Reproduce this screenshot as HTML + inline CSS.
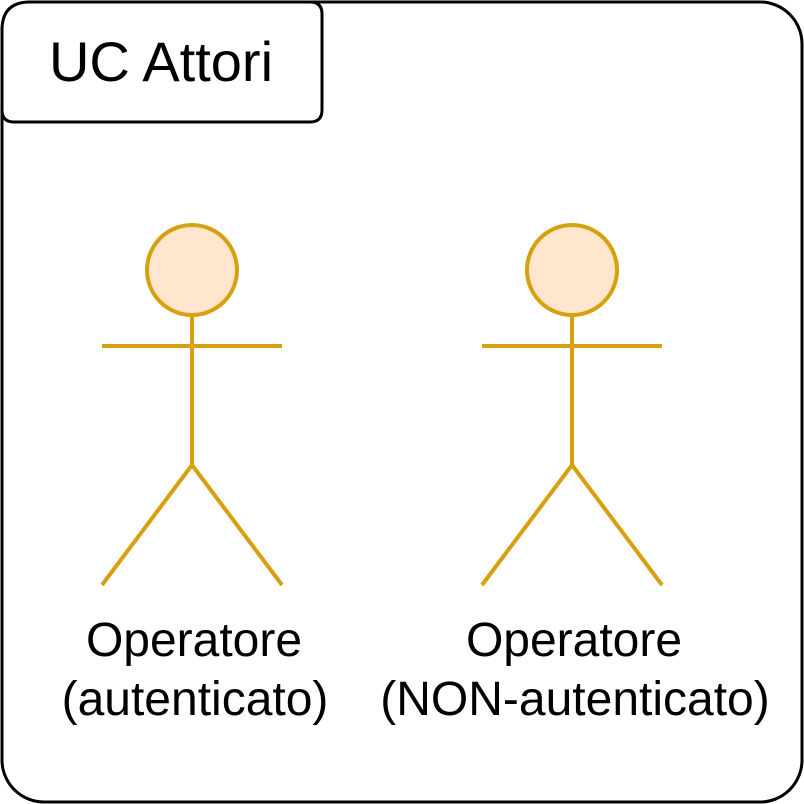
<!DOCTYPE html>
<html><head><style>body{margin:0;background:#fff}svg{display:block}</style></head><body>
<svg width="804" height="804" xmlns="http://www.w3.org/2000/svg">
<rect x="2" y="2" width="800" height="800" rx="42" fill="#fff" stroke="#000" stroke-width="3"/>
<path d="M2,30 Q2,2 30,2 L310,2 Q322,2 322,14 L322,110 Q322,122 310,122 L14,122 Q2,122 2,110 Z" fill="#fff" stroke="#000" stroke-width="3"/>
<text x="161" y="81" font-family="Liberation Sans, sans-serif" font-size="56" text-anchor="middle">UC Attori</text>
<g stroke="#d6a10e" stroke-width="4" fill="none">
<circle cx="192" cy="270" r="45" fill="#ffe6cc"/>
<line x1="192" y1="315" x2="192" y2="465"/><line x1="102" y1="346" x2="282" y2="346"/>
<line x1="102" y1="585" x2="192" y2="465"/><line x1="282" y1="585" x2="192" y2="465"/>
<circle cx="572" cy="270" r="45" fill="#ffe6cc"/>
<line x1="572" y1="315" x2="572" y2="465"/><line x1="482" y1="346" x2="662" y2="346"/>
<line x1="482" y1="585" x2="572" y2="465"/><line x1="662" y1="585" x2="572" y2="465"/>
</g>
<g font-family="Liberation Sans, sans-serif" font-size="48" text-anchor="middle">
<text x="194" y="656">Operatore</text><text x="195" y="715">(autenticato)</text>
<text x="574" y="656">Operatore</text><text x="575" y="715">(NON-autenticato)</text>
</g>
</svg>
</body></html>
